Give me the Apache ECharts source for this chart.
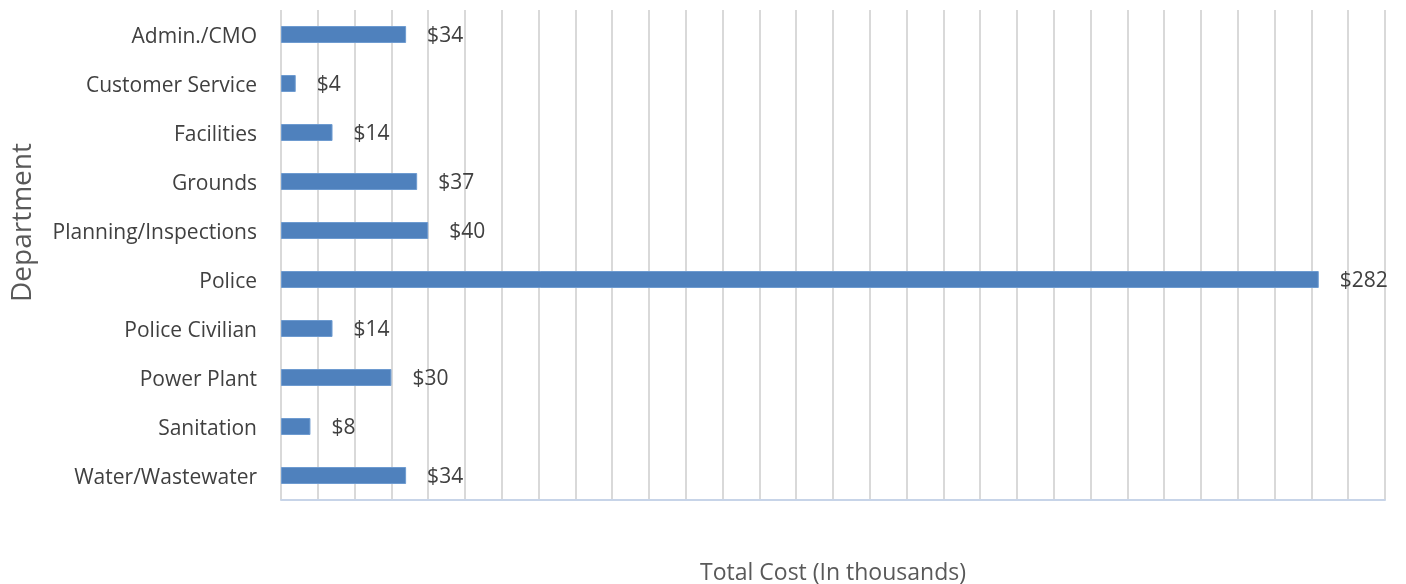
<!DOCTYPE html>
<html>
<head>
<meta charset="utf-8">
<script src="https://cdn.jsdelivr.net/npm/echarts@6/dist/echarts.min.js"></script>
<style>
  html, body { margin: 0; padding: 0; background: #ffffff; }
  #chart { width: 1406px; height: 584px; }
</style>
</head>
<body>
<div id="chart"></div>
<script>
// Department labels, listed top to bottom
const departments = [
  'Admin./CMO', 'Customer Service', 'Facilities', 'Grounds',
  'Planning/Inspections', 'Police', 'Police Civilian', 'Power Plant',
  'Sanitation', 'Water/Wastewater'
];
// Total cost per department, in thousands of dollars
const totalCost = [34, 4, 14, 37, 40, 282, 14, 30, 8, 34];

const axisMax = 300;
const axisStep = 10;

const FONT = '"Open Sans", "DejaVu Sans", sans-serif';
const chart = echarts.init(document.getElementById('chart'), null, { renderer: 'canvas' });

chart.setOption({
  animation: false,
  backgroundColor: '#ffffff',
  grid: {
    left: 281, right: 21, top: 10, bottom: 84,
    containLabel: false,
    outerBoundsMode: 'none'
  },
  xAxis: {
    type: 'value',
    min: 0,
    max: axisMax,
    interval: axisStep,
    name: 'Total Cost (In thousands)',
    nameLocation: 'middle',
    nameGap: 62,
    nameTextStyle: { fontFamily: FONT, fontSize: 23, color: '#595959' },
    axisLine: { show: true, lineStyle: { color: '#c7d4e8', width: 2 } },
    axisTick: { show: false },
    axisLabel: { show: false },
    splitLine: { show: true, lineStyle: { color: '#d9d9d9', width: 2 } }
  },
  yAxis: {
    type: 'category',
    data: departments,
    inverse: true,
    axisLine: { show: false },
    axisTick: { show: false },
    axisLabel: {
      margin: 24,
      formatter: v => '{d|' + v + '}',
      rich: {
        d: {
          fontFamily: FONT, fontSize: 21, color: '#404040',
          padding: [5, 0, 0, 0]
        }
      }
    },
    splitLine: { show: false }
  },
  graphic: [{
    type: 'text',
    left: 9,
    top: 143,
    rotation: Math.PI / 2,
    style: {
      text: 'Department',
      fontFamily: FONT,
      fontSize: 28,
      fill: '#595959'
    }
  }],
  series: [{
    type: 'bar',
    data: totalCost,
    barWidth: 17,
    itemStyle: { color: '#4f81bd', borderColor: '#6e9bd0', borderWidth: 1 },
    label: {
      show: true,
      position: 'right',
      distance: 21,
      offset: [0, 2],
      formatter: p => '$' + p.value,
      fontFamily: FONT,
      fontSize: 21,
      color: '#404040'
    }
  }]
});
</script>
</body>
</html>
